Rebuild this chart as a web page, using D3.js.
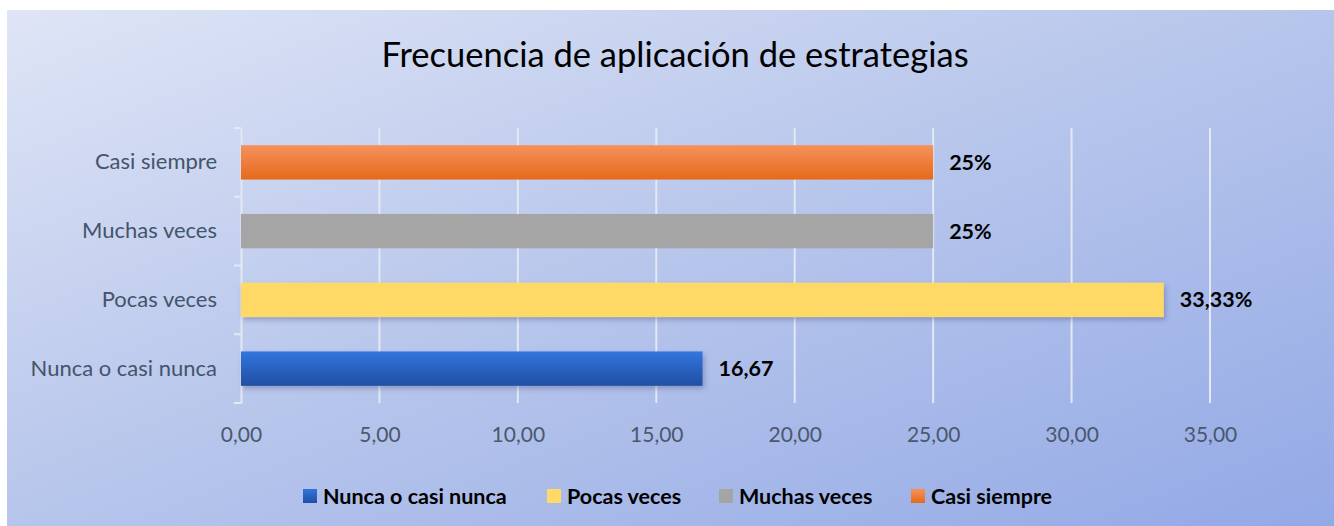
<!DOCTYPE html>
<html>
<head>
<meta charset="utf-8">
<script src="https://cdn.jsdelivr.net/npm/d3@7"></script>
<style>
  body { margin: 0; background: #fff; }
  svg { display: block; font-family: Lato, "Open Sans", sans-serif; }
</style>
</head>
<body>
<div id="chart"></div>
<script>
// data
const categories = ["Nunca o casi nunca", "Pocas veces", "Muchas veces", "Casi siempre"];
const values = [16.67, 33.33, 25, 25];
const valueLabels = ["16,67", "33,33%", "25%", "25%"];
const xTicks = [0, 5, 10, 15, 20, 25, 30, 35];
const colors = [
	{ top: "#3275de", bottom: "#214fa3" },
	{ top: "#ffd966", bottom: "#ffd966" },
	{ top: "#a5a5a5", bottom: "#a5a5a5" },
	{ top: "#f4925c", bottom: "#e7691b" },
];

const width = 1334, height = 526;
const margin = { top: 128, right: 124, bottom: 123, left: 241 };

const svg = d3.select("#chart").append("svg")
	.attr("width", width)
	.attr("height", height);

const defs = svg.append("defs");

let bg = defs.append("linearGradient")
	.attr("id", "bg")
	.attr("x1", "0%").attr("y1", "0%")
	.attr("x2", "100%").attr("y2", "100%");
bg.append("stop").attr("offset", "0%").attr("stop-color", "#dfe5f6");
bg.append("stop").attr("offset", "45%").attr("stop-color", "#bac8ec");
bg.append("stop").attr("offset", "100%").attr("stop-color", "#93a9e6");

colors.forEach((c, i) => {
	let g = defs.append("linearGradient")
		.attr("id", "bar" + i)
		.attr("x1", 0).attr("y1", 0).attr("x2", 0).attr("y2", 1);
	g.append("stop").attr("offset", "0%").attr("stop-color", c.top);
	g.append("stop").attr("offset", "100%").attr("stop-color", c.bottom);
});

let shadow = defs.append("filter")
	.attr("id", "shadow")
	.attr("x", "-5%").attr("y", "-20%")
	.attr("width", "110%").attr("height", "150%");
shadow.append("feDropShadow")
	.attr("dx", 2).attr("dy", 3)
	.attr("stdDeviation", 2.5)
	.attr("flood-color", "#3a4a7a")
	.attr("flood-opacity", 0.35);

svg.append("rect")
	.attr("x", 7).attr("y", 10)
	.attr("width", width - 7).attr("height", height - 10)
	.attr("fill", "url(#bg)");

let scale = {
	x: d3.scaleLinear().domain([0, 35]).range([margin.left, width - margin.right]),
	y: d3.scaleBand().domain(categories.slice().reverse()).range([margin.top, height - margin.bottom]).paddingInner(0.5).paddingOuter(0.25),
};

// title
svg.append("text")
	.attr("x", 675)
	.attr("y", 67)
	.attr("text-anchor", "middle")
	.attr("font-size", 34.5)
	.attr("fill", "#000")
	.text("Frecuencia de aplicación de estrategias");

// gridlines
svg.append("g")
	.attr("class", "grid")
	.selectAll("line")
	.data(xTicks.slice(1))
	.join("line")
		.attr("x1", d => scale.x(d)).attr("x2", d => scale.x(d))
		.attr("y1", margin.top).attr("y2", height - margin.bottom)
		.attr("stroke", "#e4e8f2")
		.attr("stroke-width", 2);

// y axis
let yAxis = svg.append("g")
	.attr("transform", `translate(${margin.left}, 0)`)
	.call(d3.axisLeft(scale.y).tickSize(0).tickPadding(24));
yAxis.select(".domain").attr("stroke", "#e4e8f2").attr("stroke-width", 2);
yAxis.selectAll("text")
	.attr("font-size", 22)
	.attr("fill", "#44546a")
	.attr("font-family", "Lato, sans-serif");

let bandEdges = d3.range(categories.length + 1).map(i => margin.top + i * (height - margin.bottom - margin.top) / categories.length);
yAxis.selectAll(".edge")
	.data(bandEdges)
	.join("line")
		.attr("class", "edge")
		.attr("x1", -7).attr("x2", 0)
		.attr("y1", d => d).attr("y2", d => d)
		.attr("stroke", "#e4e8f2")
		.attr("stroke-width", 2);

// x axis labels
let xAxis = svg.append("g")
	.attr("transform", `translate(0, ${height - margin.bottom})`)
	.call(d3.axisBottom(scale.x).tickValues(xTicks).tickSize(0).tickPadding(24)
		.tickFormat(d => d3.format(".2f")(d).replace(".", ",")));
xAxis.select(".domain").remove();
xAxis.selectAll("text")
	.attr("font-size", 21)
	.attr("fill", "#4a586d")
	.attr("font-family", "Lato, sans-serif");

// bars
let bars = svg.append("g").attr("class", "bars");
bars.selectAll("rect")
	.data(categories)
	.join("rect")
		.attr("x", scale.x(0))
		.attr("y", d => scale.y(d))
		.attr("width", (d, i) => scale.x(values[i]) - scale.x(0))
		.attr("height", scale.y.bandwidth())
		.attr("fill", (d, i) => `url(#bar${i})`)
		.attr("filter", (d, i) => i < 2 ? "url(#shadow)" : null);

bars.selectAll("text")
	.data(categories)
	.join("text")
		.attr("x", (d, i) => scale.x(values[i]) + 16)
		.attr("y", d => scale.y(d) + scale.y.bandwidth() / 2)
		.attr("dy", "0.35em")
		.attr("font-size", 21.5)
		.attr("font-weight", "bold")
		.attr("fill", "#000")
		.text((d, i) => valueLabels[i]);

// legend
let legendX = [303, 547, 719, 911];
let legend = svg.append("g").attr("class", "legend");
let item = legend.selectAll("g")
	.data(categories)
	.join("g")
		.attr("transform", (d, i) => `translate(${legendX[i]}, 496)`);
item.append("rect")
	.attr("x", 0).attr("y", -7)
	.attr("width", 14).attr("height", 14)
	.attr("fill", (d, i) => colors[i].top === colors[i].bottom ? colors[i].top : `url(#bar${i})`);
item.append("text")
	.attr("x", 20)
	.attr("dy", "0.35em")
	.attr("font-size", 21.5)
	.attr("font-weight", "bold")
	.attr("fill", "#000")
	.text(d => d);
</script>
</body>
</html>
